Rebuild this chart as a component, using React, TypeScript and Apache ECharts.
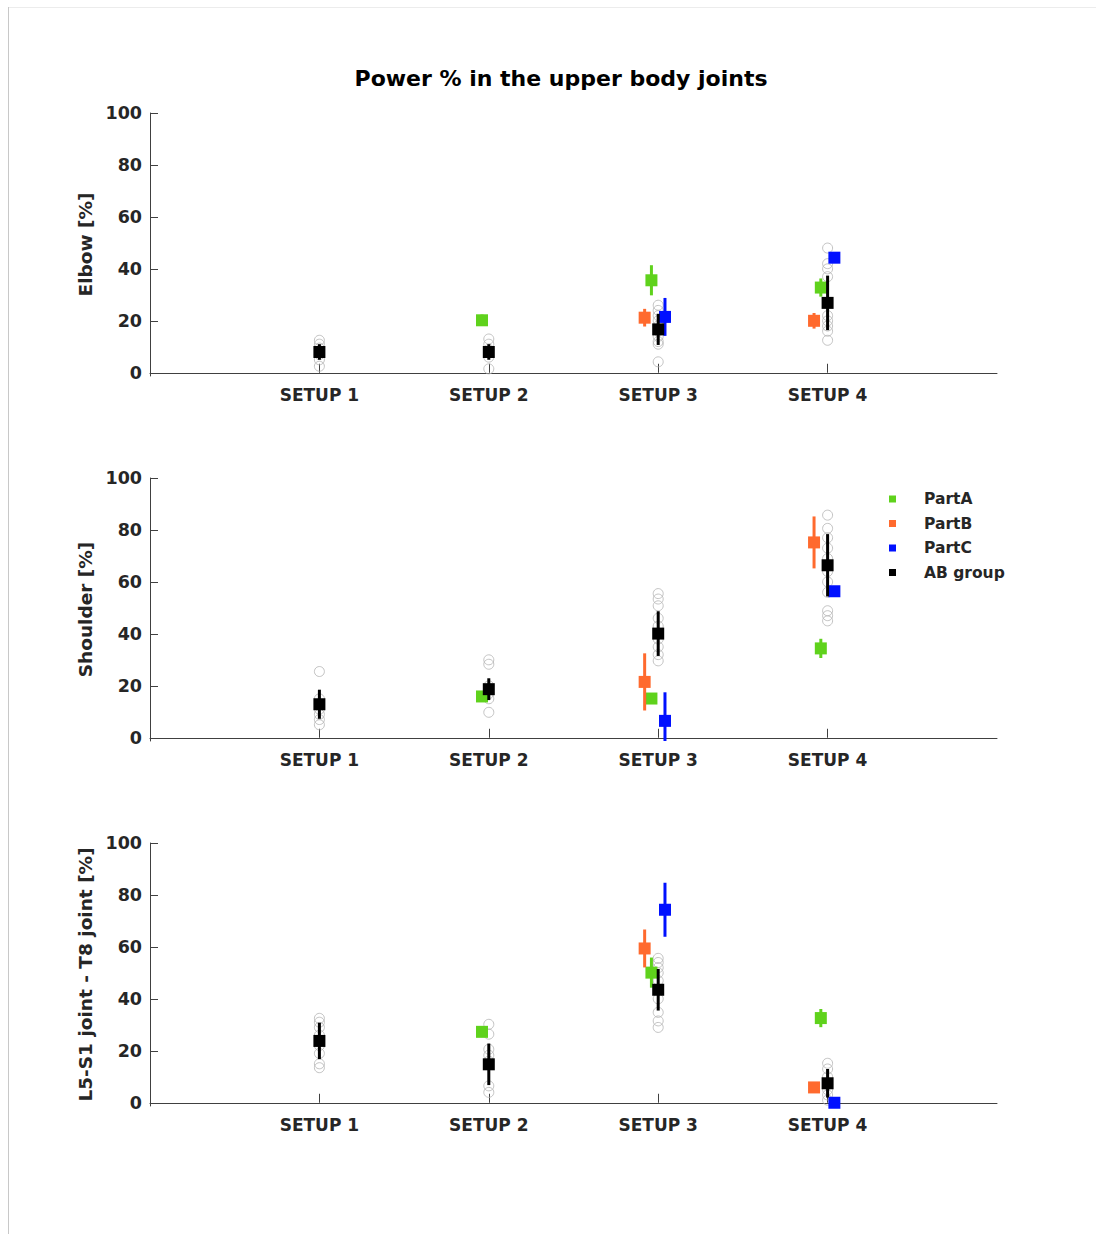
import React, { useEffect, useRef } from "react";
import * as echarts from "echarts";

// ---- data ----
const SETUPS = ["SETUP 1", "SETUP 2", "SETUP 3", "SETUP 4"];
const Y_TICKS = [0, 20, 40, 60, 80, 100];
const JOINT_NAMES = ["Elbow [%]", "Shoulder [%]", "L5-S1 joint - T8 joint [%]"];
const GROUPS = ["PartA", "PartB", "PartC", "AB group"];
const GROUP_COLORS = ["#5fd21c", "#ff6a2e", "#0010ff", "#000000"];
const GROUP_OFFSETS = [-0.04, -0.08, 0.04, 0];

// Elbow
const elbowMeanA = [null, 20.2, 35.6, 32.8];
const elbowErrA = [null, 2.2, 5.8, 3.5];
const elbowMeanB = [null, null, 21.2, 20.0];
const elbowErrB = [null, null, 3.4, 3.0];
const elbowMeanC = [null, null, 21.5, 44.3];
const elbowErrC = [null, null, 7.3, 0.8];
const elbowMeanAB = [8.0, 8.0, 16.7, 26.9];
const elbowErrAB = [3.0, 3.0, 6.0, 10.5];
const elbowSubjects = [
  [12.5, 11, 9.5, 7, 5, 2.5],
  [13, 11, 9, 6, 1.5],
  [26, 24, 22, 20, 18, 16, 14, 12, 11, 4.2],
  [48, 42, 40, 37, 22, 20, 18, 16, 12.5],
];

// Shoulder
const shoulderMeanA = [null, 15.9, 15.1, 34.4];
const shoulderErrA = [null, 1.0, 1.0, 3.7];
const shoulderMeanB = [null, null, 21.5, 75.2];
const shoulderErrB = [null, null, 11.0, 10.0];
const shoulderMeanC = [null, null, 6.5, 56.4];
const shoulderErrC = [null, null, 11.0, 1.0];
const shoulderMeanAB = [12.9, 18.7, 40.1, 66.4];
const shoulderErrAB = [5.6, 4.2, 8.6, 12.0];
const shoulderSubjects = [
  [25.5, 15, 13, 11, 9, 7, 5],
  [30, 28.3, 20, 17, 15, 9.8],
  [55.5, 53.4, 50.8, 46, 43, 38, 35, 32, 29.6],
  [85.7, 80.6, 77, 73, 69, 64, 60, 56, 48.9, 47, 45],
];

// L5-S1 joint - T8 joint
const lumbarMeanA = [null, 27.3, 50.1, 32.6];
const lumbarErrA = [null, 2.0, 5.8, 3.5];
const lumbarMeanB = [null, null, 59.4, 5.9];
const lumbarErrB = [null, null, 7.3, 1.0];
const lumbarMeanC = [null, null, 74.3, 0];
const lumbarErrC = [null, null, 10.4, 0.5];
const lumbarMeanAB = [23.8, 14.8, 43.5, 7.5];
const lumbarErrAB = [7.0, 8.0, 8.0, 5.5];
const lumbarSubjects = [
  [32.5, 31, 29, 26, 22, 19, 15, 13.5],
  [30.2, 26.4, 20.6, 18.3, 16, 6.5, 4],
  [55.6, 54, 52, 50, 47, 40, 34.8, 31.5, 29],
  [15.2, 13, 10, 7, 5, 3, 1],
];

const PANELS = [
  {
    means: [elbowMeanA, elbowMeanB, elbowMeanC, elbowMeanAB],
    errs: [elbowErrA, elbowErrB, elbowErrC, elbowErrAB],
    subjects: elbowSubjects,
  },
  {
    means: [shoulderMeanA, shoulderMeanB, shoulderMeanC, shoulderMeanAB],
    errs: [shoulderErrA, shoulderErrB, shoulderErrC, shoulderErrAB],
    subjects: shoulderSubjects,
  },
  {
    means: [lumbarMeanA, lumbarMeanB, lumbarMeanC, lumbarMeanAB],
    errs: [lumbarErrA, lumbarErrB, lumbarErrC, lumbarErrAB],
    subjects: lumbarSubjects,
  },
];

const Y_MIN = -1.25;
const FONT = "DejaVu Sans";
const AXIS_COLOR = "#404040";
const LABEL_COLOR = "#262626";

function buildOption() {
  const gridTops = [113, 478, 843];
  const grids = gridTops.map((t) => ({ left: 150, top: t, width: 847, height: 263 }));

  const xAxes = gridTops.map((_, i) => ({
    type: "value",
    gridIndex: i,
    min: 0,
    max: 5,
    splitLine: { show: false },
    axisLine: { show: true, lineStyle: { color: AXIS_COLOR, width: 1 } },
    axisTick: {
      show: true,
      inside: true,
      length: 9,
      customValues: [1, 2, 3, 4],
      lineStyle: { color: AXIS_COLOR },
    },
    axisLabel: {
      customValues: [1, 2, 3, 4],
      formatter: (v: number) => SETUPS[Math.round(v) - 1] ?? "",
      fontFamily: FONT,
      fontWeight: "bold",
      fontSize: 17,
      color: LABEL_COLOR,
      margin: 10,
    },
  }));

  const yAxes = gridTops.map((_, i) => ({
    type: "value",
    gridIndex: i,
    min: Y_MIN,
    max: 100,
    name: JOINT_NAMES[i],
    nameLocation: "middle",
    nameGap: 50,
    nameRotate: 90,
    nameTextStyle: { fontFamily: FONT, fontWeight: "bold", fontSize: 18.5, color: LABEL_COLOR },
    splitLine: { show: false },
    axisLine: { show: true, lineStyle: { color: AXIS_COLOR, width: 1 } },
    axisTick: {
      show: true,
      inside: true,
      length: 8,
      customValues: Y_TICKS,
      lineStyle: { color: AXIS_COLOR },
    },
    axisLabel: {
      customValues: Y_TICKS,
      fontFamily: FONT,
      fontWeight: "bold",
      fontSize: 17.5,
      color: LABEL_COLOR,
      margin: 8,
    },
  }));

  const series: any[] = [];
  PANELS.forEach((panel, pi) => {
    const pts: number[][] = [];
    panel.subjects.forEach((vals, si) => vals.forEach((v) => pts.push([si + 1, v])));
    series.push({
      type: "scatter",
      name: "subjects",
      xAxisIndex: pi,
      yAxisIndex: pi,
      symbol: "circle",
      symbolSize: 10,
      itemStyle: { color: "rgba(255,255,255,0)", borderColor: "#b4b4b4", borderWidth: 1 },
      data: pts,
      z: 1,
    });
    [3, 0, 1, 2].forEach((gi) => {
      const data: any[] = [];
      panel.means[gi].forEach((m, si) => {
        if (m === null || m === undefined) return;
        data.push([si + 1 + GROUP_OFFSETS[gi], m, panel.errs[gi][si]]);
      });
      series.push({
        type: "custom",
        name: GROUPS[gi],
        xAxisIndex: pi,
        yAxisIndex: pi,
        itemStyle: { color: GROUP_COLORS[gi] },
        z: 3 + gi,
        data,
        encode: { x: 0, y: 1 },
        renderItem: (params: any, api: any) => {
          const x = api.value(0);
          const m = api.value(1);
          const e = api.value(2);
          const c = api.coord([x, m]);
          const lo = api.coord([x, Math.max(m - e, Y_MIN)]);
          const hi = api.coord([x, Math.min(m + e, 100)]);
          const color = api.visual("color");
          return {
            type: "group",
            children: [
              {
                type: "line",
                shape: { x1: c[0], y1: lo[1], x2: c[0], y2: hi[1] },
                style: { stroke: color, lineWidth: 3 },
              },
              {
                type: "rect",
                shape: { x: c[0] - 6, y: c[1] - 6, width: 12, height: 12 },
                style: { fill: color },
              },
            ],
          };
        },
      });
    });
  });

  return {
    animation: false,
    backgroundColor: "#ffffff",
    title: {
      text: "Power % in the upper body joints",
      left: 561,
      top: 67,
      textAlign: "center",
      padding: 0,
      textStyle: { fontFamily: FONT, fontWeight: "bold", fontSize: 22, color: "#000000" },
    },
    legend: {
      orient: "vertical",
      left: 884,
      top: 484,
      itemWidth: 7,
      itemHeight: 7,
      itemGap: 4.5,
      icon: "rect",
      data: GROUPS.map((g, i) => ({ name: g, itemStyle: { color: GROUP_COLORS[i] } })),
      textStyle: {
        fontFamily: FONT,
        fontWeight: "bold",
        fontSize: 15.5,
        color: LABEL_COLOR,
        lineHeight: 20,
        padding: [0, 0, 0, 23],
      },
      selectedMode: false,
    },
    graphic: [
      { type: "line", shape: { x1: 8, y1: 7.5, x2: 1096, y2: 7.5 }, style: { stroke: "#ececec", lineWidth: 1 } },
      { type: "line", shape: { x1: 8.5, y1: 7, x2: 8.5, y2: 1234 }, style: { stroke: "#c8c8c8", lineWidth: 1 } },
    ],
    grid: grids,
    xAxis: xAxes,
    yAxis: yAxes,
    series,
  };
}

export default function App() {
  const ref = useRef<HTMLDivElement>(null);
  useEffect(() => {
    if (!ref.current) return;
    const chart = echarts.init(ref.current, undefined, { renderer: "svg" });
    chart.setOption(buildOption() as any);
    return () => chart.dispose();
  }, []);
  return (
    <div
      ref={ref}
      style={{ position: "absolute", left: 0, top: 0, width: 1096, height: 1234, background: "#fff" }}
    />
  );
}
